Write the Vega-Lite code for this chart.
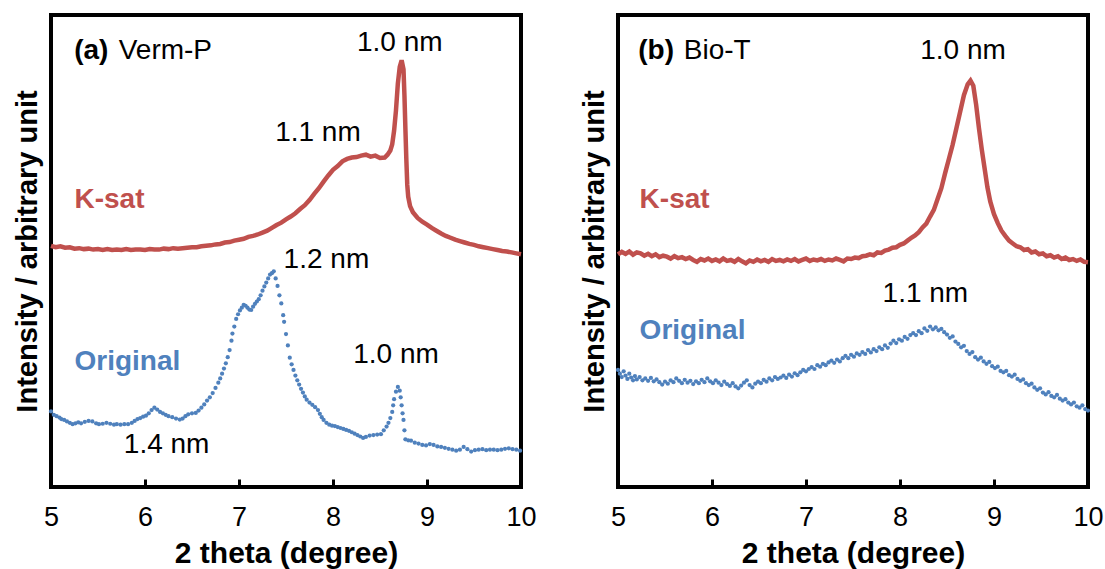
{
  "$schema": "https://vega.github.io/schema/vega-lite/v6.json",
  "padding": {"left": 11, "top": 13, "right": 8, "bottom": 0},
  "spacing": 39,
  "config": {
    "font": "Liberation Sans",
    "view": {"stroke": "#000000", "strokeWidth": 4},
    "text": {"font": "Liberation Sans"}
  },
  "datasets": {
    "aK": [
      {"theta":5.00,"v":51.1},{"theta":5.05,"v":50.8},{"theta":5.10,"v":51.0},{"theta":5.15,"v":50.7},{"theta":5.20,"v":50.8},{"theta":5.25,"v":50.5},{"theta":5.30,"v":50.6},{"theta":5.35,"v":50.4},{"theta":5.40,"v":50.5},{"theta":5.45,"v":50.3},{"theta":5.50,"v":50.4},{"theta":5.55,"v":50.2},{"theta":5.60,"v":50.4},{"theta":5.65,"v":50.2},{"theta":5.70,"v":50.3},{"theta":5.75,"v":50.2},{"theta":5.80,"v":50.4},{"theta":5.85,"v":50.2},{"theta":5.90,"v":50.3},{"theta":5.95,"v":50.3},{"theta":6.00,"v":50.2},{"theta":6.05,"v":50.4},{"theta":6.10,"v":50.3},{"theta":6.15,"v":50.3},{"theta":6.20,"v":50.5},{"theta":6.25,"v":50.4},{"theta":6.30,"v":50.6},{"theta":6.35,"v":50.5},{"theta":6.40,"v":50.6},{"theta":6.45,"v":50.7},{"theta":6.50,"v":50.8},{"theta":6.55,"v":50.8},{"theta":6.60,"v":51.0},{"theta":6.65,"v":51.1},{"theta":6.70,"v":51.2},{"theta":6.75,"v":51.4},{"theta":6.80,"v":51.5},{"theta":6.85,"v":51.8},{"theta":6.90,"v":51.9},{"theta":6.95,"v":52.2},{"theta":7.00,"v":52.4},{"theta":7.05,"v":52.6},{"theta":7.10,"v":53.0},{"theta":7.15,"v":53.2},{"theta":7.20,"v":53.5},{"theta":7.25,"v":53.9},{"theta":7.30,"v":54.3},{"theta":7.35,"v":54.9},{"theta":7.40,"v":55.5},{"theta":7.45,"v":56.0},{"theta":7.50,"v":56.7},{"theta":7.55,"v":57.3},{"theta":7.60,"v":58.0},{"theta":7.65,"v":58.9},{"theta":7.70,"v":59.7},{"theta":7.75,"v":60.8},{"theta":7.80,"v":62.1},{"theta":7.85,"v":63.3},{"theta":7.90,"v":64.7},{"theta":7.95,"v":66.0},{"theta":8.00,"v":67.2},{"theta":8.05,"v":68.0},{"theta":8.10,"v":69.0},{"theta":8.15,"v":69.5},{"theta":8.20,"v":69.8},{"theta":8.25,"v":69.9},{"theta":8.30,"v":70.2},{"theta":8.35,"v":70.4},{"theta":8.40,"v":70.0},{"theta":8.45,"v":70.2},{"theta":8.50,"v":69.7},{"theta":8.55,"v":69.8},{"theta":8.58,"v":70.4},{"theta":8.61,"v":71.3},{"theta":8.63,"v":72.6},{"theta":8.65,"v":75.5},{"theta":8.67,"v":79.8},{"theta":8.69,"v":85.5},{"theta":8.71,"v":89.0},{"theta":8.73,"v":90.4},{"theta":8.75,"v":88.5},{"theta":8.76,"v":83.0},{"theta":8.77,"v":76.0},{"theta":8.78,"v":69.5},{"theta":8.79,"v":64.0},{"theta":8.80,"v":61.5},{"theta":8.82,"v":59.5},{"theta":8.85,"v":58.2},{"theta":8.90,"v":57.0},{"theta":8.95,"v":56.2},{"theta":9.00,"v":55.6},{"theta":9.05,"v":54.9},{"theta":9.10,"v":54.3},{"theta":9.15,"v":53.7},{"theta":9.20,"v":53.2},{"theta":9.25,"v":52.8},{"theta":9.30,"v":52.4},{"theta":9.35,"v":52.1},{"theta":9.40,"v":51.8},{"theta":9.45,"v":51.5},{"theta":9.50,"v":51.3},{"theta":9.55,"v":51.0},{"theta":9.60,"v":50.8},{"theta":9.65,"v":50.6},{"theta":9.70,"v":50.4},{"theta":9.75,"v":50.2},{"theta":9.80,"v":50.0},{"theta":9.85,"v":49.9},{"theta":9.90,"v":49.7},{"theta":9.95,"v":49.5},{"theta":10.00,"v":49.3}
    ],
    "aO": [
      {"theta":5.00,"v":16.0},{"theta":5.03,"v":15.3},{"theta":5.06,"v":15.0},{"theta":5.09,"v":14.7},{"theta":5.11,"v":14.4},{"theta":5.14,"v":14.2},{"theta":5.17,"v":13.9},{"theta":5.20,"v":13.6},{"theta":5.23,"v":13.3},{"theta":5.26,"v":13.5},{"theta":5.29,"v":13.7},{"theta":5.32,"v":13.5},{"theta":5.36,"v":13.8},{"theta":5.40,"v":14.0},{"theta":5.44,"v":13.9},{"theta":5.48,"v":13.5},{"theta":5.51,"v":13.3},{"theta":5.55,"v":13.4},{"theta":5.59,"v":13.6},{"theta":5.63,"v":13.4},{"theta":5.67,"v":13.2},{"theta":5.70,"v":13.3},{"theta":5.74,"v":13.2},{"theta":5.78,"v":13.3},{"theta":5.82,"v":13.3},{"theta":5.86,"v":13.6},{"theta":5.89,"v":14.0},{"theta":5.92,"v":14.4},{"theta":5.95,"v":14.6},{"theta":5.98,"v":14.9},{"theta":6.01,"v":15.1},{"theta":6.04,"v":15.6},{"theta":6.07,"v":16.3},{"theta":6.10,"v":16.8},{"theta":6.13,"v":16.4},{"theta":6.16,"v":15.9},{"theta":6.19,"v":15.6},{"theta":6.22,"v":15.3},{"theta":6.25,"v":15.0},{"theta":6.29,"v":14.8},{"theta":6.33,"v":14.5},{"theta":6.37,"v":14.3},{"theta":6.40,"v":14.5},{"theta":6.43,"v":15.0},{"theta":6.46,"v":15.4},{"theta":6.50,"v":15.6},{"theta":6.54,"v":15.7},{"theta":6.57,"v":16.2},{"theta":6.60,"v":16.8},{"theta":6.63,"v":17.5},{"theta":6.66,"v":18.3},{"theta":6.69,"v":19.0},{"theta":6.72,"v":19.9},{"theta":6.75,"v":21.0},{"theta":6.78,"v":22.1},{"theta":6.80,"v":23.0},{"theta":6.82,"v":24.0},{"theta":6.84,"v":25.1},{"theta":6.86,"v":26.2},{"theta":6.88,"v":27.5},{"theta":6.90,"v":29.0},{"theta":6.92,"v":31.0},{"theta":6.93,"v":32.5},{"theta":6.95,"v":34.0},{"theta":6.97,"v":35.6},{"theta":6.99,"v":36.6},{"theta":7.01,"v":37.4},{"theta":7.03,"v":38.0},{"theta":7.05,"v":38.6},{"theta":7.07,"v":38.4},{"theta":7.09,"v":38.0},{"theta":7.11,"v":37.6},{"theta":7.13,"v":37.5},{"theta":7.15,"v":38.2},{"theta":7.17,"v":38.8},{"theta":7.19,"v":39.3},{"theta":7.21,"v":39.8},{"theta":7.23,"v":40.6},{"theta":7.25,"v":41.6},{"theta":7.27,"v":42.5},{"theta":7.29,"v":43.3},{"theta":7.31,"v":44.2},{"theta":7.33,"v":45.0},{"theta":7.35,"v":45.3},{"theta":7.37,"v":45.7},{"theta":7.39,"v":44.2},{"theta":7.41,"v":42.6},{"theta":7.43,"v":40.6},{"theta":7.45,"v":38.9},{"theta":7.47,"v":36.4},{"theta":7.48,"v":35.0},{"theta":7.50,"v":32.4},{"theta":7.52,"v":30.0},{"theta":7.54,"v":27.4},{"theta":7.56,"v":26.0},{"theta":7.58,"v":24.8},{"theta":7.60,"v":23.6},{"theta":7.62,"v":22.6},{"theta":7.64,"v":21.7},{"theta":7.66,"v":20.8},{"theta":7.68,"v":20.0},{"theta":7.70,"v":19.2},{"theta":7.72,"v":18.5},{"theta":7.75,"v":17.9},{"theta":7.78,"v":17.4},{"theta":7.81,"v":16.9},{"theta":7.84,"v":16.3},{"theta":7.86,"v":15.5},{"theta":7.88,"v":14.8},{"theta":7.90,"v":14.2},{"theta":7.93,"v":13.6},{"theta":7.96,"v":13.2},{"theta":7.99,"v":13.0},{"theta":8.02,"v":12.9},{"theta":8.05,"v":12.7},{"theta":8.08,"v":12.5},{"theta":8.11,"v":12.3},{"theta":8.14,"v":12.1},{"theta":8.17,"v":11.9},{"theta":8.20,"v":11.6},{"theta":8.23,"v":11.3},{"theta":8.26,"v":11.0},{"theta":8.29,"v":10.7},{"theta":8.32,"v":10.4},{"theta":8.35,"v":10.6},{"theta":8.39,"v":10.9},{"theta":8.43,"v":11.0},{"theta":8.47,"v":11.1},{"theta":8.51,"v":11.2},{"theta":8.54,"v":12.0},{"theta":8.57,"v":12.8},{"theta":8.59,"v":13.6},{"theta":8.61,"v":14.6},{"theta":8.63,"v":15.9},{"theta":8.64,"v":17.3},{"theta":8.65,"v":18.6},{"theta":8.67,"v":20.2},{"theta":8.69,"v":21.2},{"theta":8.71,"v":20.4},{"theta":8.72,"v":19.0},{"theta":8.73,"v":17.3},{"theta":8.74,"v":15.6},{"theta":8.75,"v":14.2},{"theta":8.76,"v":12.0},{"theta":8.77,"v":10.1},{"theta":8.80,"v":9.9},{"theta":8.83,"v":9.8},{"theta":8.87,"v":9.4},{"theta":8.91,"v":9.2},{"theta":8.95,"v":8.9},{"theta":8.99,"v":8.8},{"theta":9.03,"v":9.1},{"theta":9.07,"v":8.9},{"theta":9.11,"v":8.6},{"theta":9.15,"v":8.5},{"theta":9.19,"v":8.3},{"theta":9.23,"v":8.1},{"theta":9.27,"v":7.9},{"theta":9.31,"v":7.7},{"theta":9.35,"v":7.9},{"theta":9.39,"v":8.5},{"theta":9.43,"v":8.0},{"theta":9.47,"v":7.5},{"theta":9.51,"v":7.8},{"theta":9.55,"v":7.9},{"theta":9.59,"v":8.0},{"theta":9.63,"v":7.8},{"theta":9.67,"v":7.9},{"theta":9.71,"v":7.9},{"theta":9.75,"v":7.8},{"theta":9.79,"v":7.9},{"theta":9.83,"v":8.1},{"theta":9.87,"v":8.2},{"theta":9.91,"v":8.0},{"theta":9.95,"v":7.9},{"theta":9.99,"v":7.7}
    ],
    "bK": [
      {"theta":5.00,"v":49.3},{"theta":5.04,"v":49.8},{"theta":5.08,"v":49.4},{"theta":5.12,"v":49.9},{"theta":5.16,"v":49.2},{"theta":5.20,"v":49.7},{"theta":5.24,"v":49.5},{"theta":5.28,"v":49.0},{"theta":5.32,"v":49.4},{"theta":5.36,"v":48.9},{"theta":5.40,"v":49.3},{"theta":5.44,"v":48.7},{"theta":5.48,"v":49.0},{"theta":5.52,"v":48.8},{"theta":5.56,"v":48.4},{"theta":5.60,"v":48.9},{"theta":5.64,"v":48.5},{"theta":5.68,"v":48.7},{"theta":5.72,"v":48.3},{"theta":5.76,"v":48.6},{"theta":5.80,"v":48.1},{"theta":5.84,"v":47.7},{"theta":5.88,"v":48.3},{"theta":5.92,"v":48.0},{"theta":5.96,"v":48.4},{"theta":6.00,"v":47.9},{"theta":6.04,"v":48.2},{"theta":6.08,"v":47.8},{"theta":6.12,"v":48.4},{"theta":6.16,"v":47.9},{"theta":6.20,"v":48.1},{"theta":6.24,"v":47.7},{"theta":6.28,"v":48.3},{"theta":6.32,"v":47.8},{"theta":6.36,"v":47.4},{"theta":6.40,"v":48.0},{"theta":6.44,"v":47.7},{"theta":6.48,"v":48.2},{"theta":6.52,"v":47.8},{"theta":6.56,"v":48.1},{"theta":6.60,"v":47.7},{"theta":6.64,"v":48.3},{"theta":6.68,"v":47.9},{"theta":6.72,"v":48.1},{"theta":6.76,"v":47.8},{"theta":6.80,"v":48.2},{"theta":6.84,"v":47.9},{"theta":6.88,"v":48.3},{"theta":6.92,"v":47.8},{"theta":6.96,"v":48.1},{"theta":7.00,"v":48.4},{"theta":7.04,"v":47.9},{"theta":7.08,"v":48.2},{"theta":7.12,"v":48.0},{"theta":7.16,"v":48.3},{"theta":7.20,"v":47.9},{"theta":7.24,"v":48.2},{"theta":7.28,"v":48.0},{"theta":7.32,"v":48.4},{"theta":7.36,"v":48.1},{"theta":7.40,"v":47.8},{"theta":7.44,"v":48.4},{"theta":7.48,"v":48.3},{"theta":7.52,"v":48.6},{"theta":7.56,"v":48.5},{"theta":7.60,"v":48.9},{"theta":7.64,"v":49.0},{"theta":7.68,"v":49.3},{"theta":7.72,"v":49.1},{"theta":7.76,"v":49.7},{"theta":7.80,"v":49.6},{"theta":7.84,"v":50.1},{"theta":7.88,"v":50.3},{"theta":7.92,"v":50.7},{"theta":7.96,"v":50.8},{"theta":8.00,"v":51.3},{"theta":8.04,"v":51.6},{"theta":8.08,"v":52.2},{"theta":8.12,"v":52.8},{"theta":8.16,"v":53.3},{"theta":8.20,"v":54.0},{"theta":8.24,"v":55.0},{"theta":8.28,"v":55.8},{"theta":8.32,"v":57.3},{"theta":8.36,"v":58.7},{"theta":8.40,"v":61.0},{"theta":8.44,"v":63.3},{"theta":8.48,"v":66.5},{"theta":8.52,"v":69.5},{"theta":8.56,"v":72.5},{"theta":8.60,"v":76.0},{"theta":8.64,"v":79.5},{"theta":8.68,"v":83.0},{"theta":8.72,"v":85.3},{"theta":8.75,"v":86.1},{"theta":8.78,"v":85.0},{"theta":8.81,"v":81.0},{"theta":8.84,"v":76.0},{"theta":8.87,"v":71.5},{"theta":8.90,"v":67.5},{"theta":8.93,"v":63.5},{"theta":8.96,"v":60.5},{"theta":9.00,"v":57.8},{"theta":9.04,"v":55.9},{"theta":9.08,"v":54.3},{"theta":9.12,"v":53.2},{"theta":9.16,"v":52.2},{"theta":9.20,"v":51.6},{"theta":9.24,"v":51.0},{"theta":9.28,"v":50.8},{"theta":9.32,"v":50.2},{"theta":9.36,"v":50.4},{"theta":9.40,"v":49.7},{"theta":9.44,"v":49.9},{"theta":9.48,"v":49.3},{"theta":9.52,"v":49.5},{"theta":9.56,"v":48.9},{"theta":9.60,"v":49.1},{"theta":9.64,"v":48.6},{"theta":9.68,"v":48.9},{"theta":9.72,"v":48.3},{"theta":9.76,"v":48.6},{"theta":9.80,"v":48.1},{"theta":9.84,"v":48.3},{"theta":9.88,"v":47.9},{"theta":9.92,"v":48.2},{"theta":9.96,"v":47.7},{"theta":10.00,"v":47.6}
    ],
    "bO": [
      {"theta":5.00,"v":24.8},{"theta":5.02,"v":24.0},{"theta":5.04,"v":23.3},{"theta":5.06,"v":24.5},{"theta":5.08,"v":23.6},{"theta":5.10,"v":22.9},{"theta":5.12,"v":24.0},{"theta":5.14,"v":23.2},{"theta":5.16,"v":22.6},{"theta":5.18,"v":23.5},{"theta":5.20,"v":22.8},{"theta":5.23,"v":23.3},{"theta":5.26,"v":22.6},{"theta":5.29,"v":23.0},{"theta":5.32,"v":22.5},{"theta":5.35,"v":23.1},{"theta":5.38,"v":22.4},{"theta":5.41,"v":22.8},{"theta":5.44,"v":22.2},{"theta":5.47,"v":21.7},{"theta":5.50,"v":22.3},{"theta":5.53,"v":21.9},{"theta":5.56,"v":22.6},{"theta":5.59,"v":22.2},{"theta":5.62,"v":23.0},{"theta":5.65,"v":22.5},{"theta":5.68,"v":22.0},{"theta":5.71,"v":22.7},{"theta":5.74,"v":22.1},{"theta":5.77,"v":22.5},{"theta":5.80,"v":21.8},{"theta":5.83,"v":22.4},{"theta":5.86,"v":22.0},{"theta":5.89,"v":22.7},{"theta":5.92,"v":22.2},{"theta":5.95,"v":23.0},{"theta":5.98,"v":22.4},{"theta":6.01,"v":22.0},{"theta":6.04,"v":22.6},{"theta":6.07,"v":22.1},{"theta":6.10,"v":21.6},{"theta":6.13,"v":22.3},{"theta":6.16,"v":21.8},{"theta":6.19,"v":21.4},{"theta":6.22,"v":22.0},{"theta":6.25,"v":21.3},{"theta":6.28,"v":20.9},{"theta":6.31,"v":21.5},{"theta":6.34,"v":22.1},{"theta":6.37,"v":22.6},{"theta":6.40,"v":21.6},{"theta":6.43,"v":21.1},{"theta":6.46,"v":21.9},{"theta":6.49,"v":22.3},{"theta":6.52,"v":22.0},{"theta":6.55,"v":22.7},{"theta":6.58,"v":22.3},{"theta":6.61,"v":23.0},{"theta":6.64,"v":22.6},{"theta":6.67,"v":23.3},{"theta":6.70,"v":22.9},{"theta":6.73,"v":23.2},{"theta":6.76,"v":23.6},{"theta":6.79,"v":23.1},{"theta":6.82,"v":23.8},{"theta":6.85,"v":23.4},{"theta":6.88,"v":24.1},{"theta":6.91,"v":23.7},{"theta":6.94,"v":24.3},{"theta":6.97,"v":24.8},{"theta":7.00,"v":24.5},{"theta":7.03,"v":25.0},{"theta":7.06,"v":25.4},{"theta":7.09,"v":25.0},{"theta":7.12,"v":25.8},{"theta":7.15,"v":25.5},{"theta":7.18,"v":26.1},{"theta":7.21,"v":25.8},{"theta":7.24,"v":26.4},{"theta":7.27,"v":26.8},{"theta":7.30,"v":26.3},{"theta":7.33,"v":27.0},{"theta":7.36,"v":26.6},{"theta":7.39,"v":27.3},{"theta":7.42,"v":27.8},{"theta":7.45,"v":27.3},{"theta":7.48,"v":28.0},{"theta":7.51,"v":27.6},{"theta":7.54,"v":28.3},{"theta":7.57,"v":28.0},{"theta":7.60,"v":28.6},{"theta":7.63,"v":28.2},{"theta":7.66,"v":29.0},{"theta":7.69,"v":28.5},{"theta":7.72,"v":29.2},{"theta":7.75,"v":28.8},{"theta":7.78,"v":29.6},{"theta":7.81,"v":29.2},{"theta":7.84,"v":30.0},{"theta":7.87,"v":29.5},{"theta":7.90,"v":30.4},{"theta":7.93,"v":31.0},{"theta":7.96,"v":30.5},{"theta":7.99,"v":31.3},{"theta":8.02,"v":31.0},{"theta":8.05,"v":31.8},{"theta":8.08,"v":31.4},{"theta":8.11,"v":32.2},{"theta":8.14,"v":32.6},{"theta":8.17,"v":32.2},{"theta":8.20,"v":33.0},{"theta":8.23,"v":32.6},{"theta":8.26,"v":33.6},{"theta":8.29,"v":33.1},{"theta":8.32,"v":34.0},{"theta":8.35,"v":33.4},{"theta":8.38,"v":33.8},{"theta":8.41,"v":33.2},{"theta":8.44,"v":33.5},{"theta":8.47,"v":32.8},{"theta":8.50,"v":32.3},{"theta":8.53,"v":31.6},{"theta":8.56,"v":31.9},{"theta":8.59,"v":30.8},{"theta":8.62,"v":30.3},{"theta":8.65,"v":29.6},{"theta":8.68,"v":29.9},{"theta":8.71,"v":28.8},{"theta":8.74,"v":28.2},{"theta":8.77,"v":28.6},{"theta":8.80,"v":27.5},{"theta":8.83,"v":27.0},{"theta":8.86,"v":27.4},{"theta":8.89,"v":26.6},{"theta":8.92,"v":26.1},{"theta":8.95,"v":26.5},{"theta":8.98,"v":25.6},{"theta":9.01,"v":25.2},{"theta":9.04,"v":25.5},{"theta":9.07,"v":24.6},{"theta":9.10,"v":24.3},{"theta":9.13,"v":24.6},{"theta":9.16,"v":23.7},{"theta":9.19,"v":23.4},{"theta":9.22,"v":23.8},{"theta":9.25,"v":22.9},{"theta":9.28,"v":22.5},{"theta":9.31,"v":22.8},{"theta":9.34,"v":22.0},{"theta":9.37,"v":21.6},{"theta":9.40,"v":21.9},{"theta":9.43,"v":21.1},{"theta":9.46,"v":20.6},{"theta":9.49,"v":20.9},{"theta":9.52,"v":20.0},{"theta":9.55,"v":19.6},{"theta":9.58,"v":20.1},{"theta":9.61,"v":19.3},{"theta":9.64,"v":19.0},{"theta":9.67,"v":19.5},{"theta":9.70,"v":18.7},{"theta":9.73,"v":18.3},{"theta":9.76,"v":18.6},{"theta":9.79,"v":17.9},{"theta":9.82,"v":17.5},{"theta":9.85,"v":17.9},{"theta":9.88,"v":17.1},{"theta":9.91,"v":16.8},{"theta":9.94,"v":17.3},{"theta":9.97,"v":16.5},{"theta":10.00,"v":16.2}
    ],
    "aLab": [
      {"kind":"nm","label":"1.0 nm","theta":8.71,"v":92.3},
      {"kind":"nm","label":"1.1 nm","theta":7.84,"v":73.4},
      {"kind":"nm","label":"1.2 nm","theta":7.93,"v":46.4},
      {"kind":"nm","label":"1.0 nm","theta":8.67,"v":26.2},
      {"kind":"nm","label":"1.4 nm","theta":6.23,"v":7.3},
      {"kind":"tagB","label":"(a)","theta":5.247,"v":90.7},
      {"kind":"tagN","label":"Verm-P","theta":5.72,"v":90.7},
      {"kind":"k","label":"K-sat","theta":5.25,"v":59.1},
      {"kind":"o","label":"Original","theta":5.25,"v":24.8}
    ],
    "bLab": [
      {"kind":"nm","label":"1.0 nm","theta":8.67,"v":90.6},
      {"kind":"nm","label":"1.1 nm","theta":8.27,"v":39.1},
      {"kind":"tagB","label":"(b)","theta":5.215,"v":90.6},
      {"kind":"tagN","label":"Bio-T","theta":5.70,"v":90.6},
      {"kind":"k","label":"K-sat","theta":5.23,"v":59.1},
      {"kind":"o","label":"Original","theta":5.23,"v":31.4}
    ]
  },
  "hconcat": [
    {
      "width": 470,
      "height": 472,
      "encoding": {
        "x": {"field": "theta", "type": "quantitative", "scale": {"domain": [5, 10], "nice": false, "zero": false},
          "axis": {"values": [5, 6, 7, 8, 9, 10], "grid": false, "domain": false, "tickColor": "#000000", "tickWidth": 3, "tickSize": -8, "labelFontSize": 27, "labelColor": "#000000", "labelPadding": 25, "labelFlush": false, "labelOverlap": false, "title": "2 theta (degree)", "titleFontSize": 30, "titleFontWeight": "bold", "titleColor": "#000000", "titlePadding": 8}},
        "y": {"field": "v", "type": "quantitative", "scale": {"domain": [0, 100], "nice": false},
          "axis": {"ticks": false, "labels": false, "domain": false, "grid": false, "title": "Intensity / arbitrary unit", "titleFontSize": 29, "titleFontWeight": "bold", "titleColor": "#000000", "titlePadding": 9}}
      },
      "layer": [
        {"data": {"name": "aK"}, "mark": {"type": "line", "color": "#C0504D", "strokeWidth": 4.5}},
        {"data": {"name": "aO"}, "mark": {"type": "point", "filled": true, "color": "#4F81BD", "size": 18, "opacity": 1}},
        {"data": {"name": "aLab"}, "transform": [{"filter": "datum.kind === 'nm'"}], "mark": {"type": "text", "fontSize": 28, "align": "center", "baseline": "alphabetic", "color": "#000000"}, "encoding": {"text": {"field": "label"}}},
        {"data": {"name": "aLab"}, "transform": [{"filter": "datum.kind === 'tagB'"}], "mark": {"type": "text", "fontSize": 28, "fontWeight": "bold", "align": "left", "baseline": "alphabetic", "color": "#000000"}, "encoding": {"text": {"field": "label"}}},
        {"data": {"name": "aLab"}, "transform": [{"filter": "datum.kind === 'tagN'"}], "mark": {"type": "text", "fontSize": 28, "align": "left", "baseline": "alphabetic", "color": "#000000"}, "encoding": {"text": {"field": "label"}}},
        {"data": {"name": "aLab"}, "transform": [{"filter": "datum.kind === 'k'"}], "mark": {"type": "text", "fontSize": 28, "fontWeight": "bold", "align": "left", "baseline": "alphabetic", "color": "#C0504D"}, "encoding": {"text": {"field": "label"}}},
        {"data": {"name": "aLab"}, "transform": [{"filter": "datum.kind === 'o'"}], "mark": {"type": "text", "fontSize": 28, "fontWeight": "bold", "align": "left", "baseline": "alphabetic", "color": "#4F81BD"}, "encoding": {"text": {"field": "label"}}}
      ]
    },
    {
      "width": 470,
      "height": 472,
      "encoding": {
        "x": {"field": "theta", "type": "quantitative", "scale": {"domain": [5, 10], "nice": false, "zero": false},
          "axis": {"values": [5, 6, 7, 8, 9, 10], "grid": false, "domain": false, "tickColor": "#000000", "tickWidth": 3, "tickSize": -8, "labelFontSize": 27, "labelColor": "#000000", "labelPadding": 25, "labelFlush": false, "labelOverlap": false, "title": "2 theta (degree)", "titleFontSize": 30, "titleFontWeight": "bold", "titleColor": "#000000", "titlePadding": 8}},
        "y": {"field": "v", "type": "quantitative", "scale": {"domain": [0, 100], "nice": false},
          "axis": {"ticks": false, "labels": false, "domain": false, "grid": false, "title": "Intensity / arbitrary unit", "titleFontSize": 29, "titleFontWeight": "bold", "titleColor": "#000000", "titlePadding": 9}}
      },
      "layer": [
        {"data": {"name": "bK"}, "mark": {"type": "line", "color": "#C0504D", "strokeWidth": 4.5}},
        {"data": {"name": "bO"}, "mark": {"type": "point", "filled": true, "color": "#4F81BD", "size": 18, "opacity": 1}},
        {"data": {"name": "bLab"}, "transform": [{"filter": "datum.kind === 'nm'"}], "mark": {"type": "text", "fontSize": 28, "align": "center", "baseline": "alphabetic", "color": "#000000"}, "encoding": {"text": {"field": "label"}}},
        {"data": {"name": "bLab"}, "transform": [{"filter": "datum.kind === 'tagB'"}], "mark": {"type": "text", "fontSize": 28, "fontWeight": "bold", "align": "left", "baseline": "alphabetic", "color": "#000000"}, "encoding": {"text": {"field": "label"}}},
        {"data": {"name": "bLab"}, "transform": [{"filter": "datum.kind === 'tagN'"}], "mark": {"type": "text", "fontSize": 28, "align": "left", "baseline": "alphabetic", "color": "#000000"}, "encoding": {"text": {"field": "label"}}},
        {"data": {"name": "bLab"}, "transform": [{"filter": "datum.kind === 'k'"}], "mark": {"type": "text", "fontSize": 28, "fontWeight": "bold", "align": "left", "baseline": "alphabetic", "color": "#C0504D"}, "encoding": {"text": {"field": "label"}}},
        {"data": {"name": "bLab"}, "transform": [{"filter": "datum.kind === 'o'"}], "mark": {"type": "text", "fontSize": 28, "fontWeight": "bold", "align": "left", "baseline": "alphabetic", "color": "#4F81BD"}, "encoding": {"text": {"field": "label"}}}
      ]
    }
  ]
}
